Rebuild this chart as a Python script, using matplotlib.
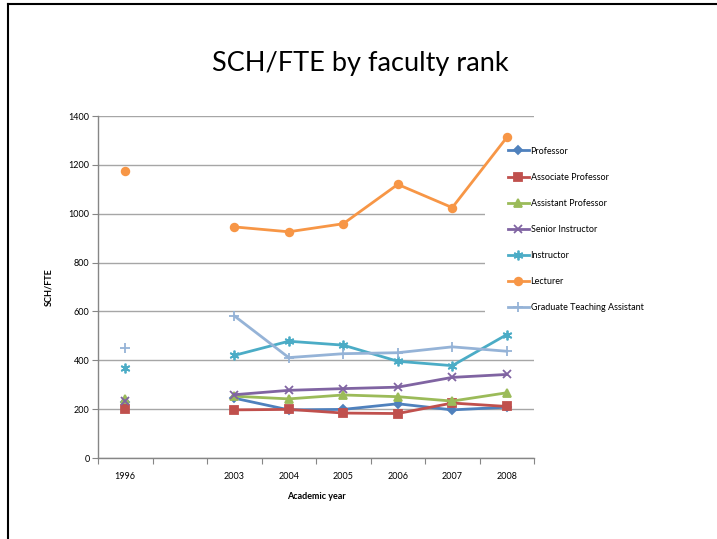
import numpy as np
import matplotlib
matplotlib.use("Agg")
import matplotlib.pyplot as plt
from matplotlib.lines import Line2D

plt.rcParams['font.family'] = ['Lato', 'DejaVu Sans']

# categories (blank slot between 1996 and 2003)
years = ["1996", "", "2003", "2004", "2005", "2006", "2007", "2008"]
nan = np.nan

professor = [228, nan, 245, 197, 199, 222, 197, 208]
assoc_prof = [199, nan, 197, 199, 184, 182, 225, 211]
asst_prof = [242, nan, 253, 242, 258, 251, 233, 267]
senior_instr = [234, nan, 259, 277, 284, 290, 330, 342]
instructor = [369, nan, 420, 478, 462, 396, 378, 505]
lecturer = [1173, nan, 946, 926, 959, 1120, 1025, 1312]
grad_ta = [450, nan, 582, 411, 427, 431, 455, 437]

series = [
    ("Professor", professor, '#4F81BD', 'D', 4),
    ("Associate Professor", assoc_prof, '#C0504D', 's', 5.5),
    ("Assistant Professor", asst_prof, '#9BBB59', '^', 5.5),
    ("Senior Instructor", senior_instr, '#8064A2', 'x', 6),
    ("Instructor", instructor, '#4BACC6', (6, 2, 0), 7),
    ("Lecturer", lecturer, '#F79646', 'o', 5.5),
    ("Graduate Teaching Assistant", grad_ta, '#95B3D7', '+', 6.5),
]

W, H = 717, 539
fig = plt.figure(figsize=(W / 100, H / 100), dpi=100)
ax = fig.add_axes([98 / W, 1 - 458 / H, (534 - 98) / W, (458 - 116) / H])

x = np.arange(len(years))
for name, vals, col, mk, ms in series:
    ax.plot(x, vals, color=col, lw=2, marker=mk, markersize=ms,
            markeredgecolor=col, markerfacecolor=col, markeredgewidth=1.3,
            label=name, zorder=3)

ax.set_xlim(-0.5, len(years) - 0.5)
ax.set_ylim(0, 1400)
ax.set_yticks(range(0, 1401, 200))
ax.set_xticks(np.arange(-0.5, len(years)), labels=[])
ax.set_xticks(x, labels=years, minor=True)
ax.tick_params(axis='x', which='major', length=4, color='#868686', direction='out')
ax.tick_params(axis='x', which='minor', length=0, pad=10, labelsize=6.5)
ax.tick_params(axis='y', length=4, color='#868686', labelsize=6.5, pad=2)

ax.grid(axis='y', color='#A6A6A6', lw=1)
ax.set_axisbelow(True)
for s in ['top', 'right']:
    ax.spines[s].set_visible(False)
for s in ['left', 'bottom']:
    ax.spines[s].set_color('#868686')
    ax.spines[s].set_linewidth(1)

ax.set_ylabel("SCH/FTE", fontsize=6.5, fontweight='bold', labelpad=11)
ax.set_xlabel("Academic year", fontsize=6.5, fontweight='bold', labelpad=8)

leg = ax.legend(loc='upper left', bbox_to_anchor=(485 / W, 1 - 124 / H),
                bbox_transform=fig.transFigure, fontsize=6.5, frameon=True,
                facecolor='white', edgecolor='none', framealpha=1, fancybox=False,
                borderpad=2.5, borderaxespad=0, labelspacing=1.9,
                handlelength=2.4, handletextpad=0.15)
leg.set_zorder(2)

fig.text(360 / W, 1 - 63 / H, "SCH/FTE by faculty rank", ha='center', va='center',
         fontsize=19.5)

# slide border (top and left edges)
fig.add_artist(Line2D([8 / W, 1], [1 - 4 / H, 1 - 4 / H], color='black', lw=1.5,
                      transform=fig.transFigure))
fig.add_artist(Line2D([8 / W, 8 / W], [0, 1 - 4 / H], color='black', lw=1.5,
                      transform=fig.transFigure))

fig.savefig("out.png", dpi=100)
